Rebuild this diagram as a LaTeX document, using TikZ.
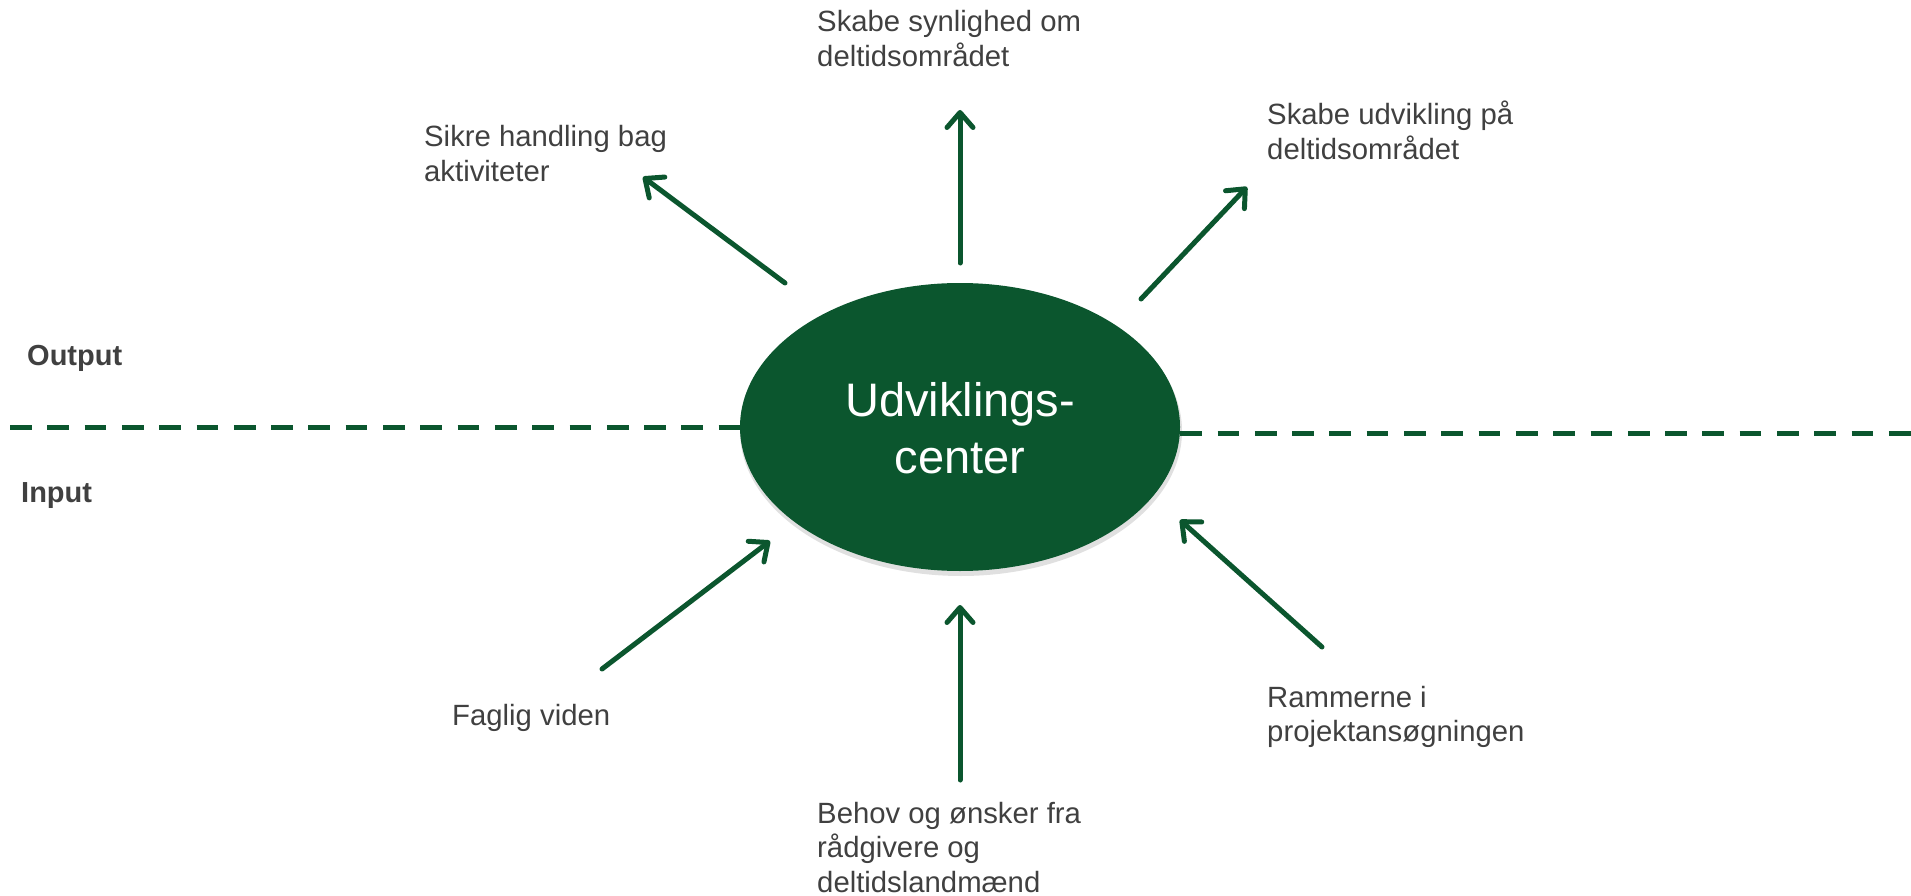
\documentclass[tikz,border=0pt]{standalone}
\usepackage{fontspec}
\setmainfont{Liberation Sans}
\usetikzlibrary{arrows.meta,shapes.geometric}
\definecolor{dgreen}{RGB}{11,86,46}
\definecolor{txtgray}{RGB}{64,64,64}
\tikzset{
  lbl/.style={anchor=base west, inner sep=0pt, text=txtgray, font=\fontsize{29.3}{34.5}\selectfont},
  side/.style={anchor=base west, inner sep=0pt, text=txtgray, font=\fontsize{29}{34}\selectfont\bfseries},
  arr/.style={draw=dgreen, line width=5pt, line cap=round,
    -{Straight Barb[length=15pt,width=26pt,round]}},
  divider/.style={draw=dgreen, line width=5pt, dash pattern=on 21.7pt off 15.6pt},
}
\begin{document}
\begin{tikzpicture}[x=1pt,y=-1pt]
\useasboundingbox (0,0) rectangle (1911,896);
% shadow of ellipse
\fill[black, opacity=0.12] (961,431) ellipse [x radius=221, y radius=145];
\node[ellipse, fill=dgreen, minimum width=440pt, minimum height=288pt, inner sep=0pt] (c) at (960,427) {};
\node[anchor=base, inner sep=0pt, text=white, font=\fontsize{47}{57}\selectfont] (ct) at (960,416)
  {\begin{tabular}[t]{@{}c@{}}Udviklings-\\center\end{tabular}};
% divider
\coordinate (L) at (10,427);
\coordinate (R) at (1911,433);
\draw[divider] (L) -- (c.west);
\draw[divider] (R -| c.east) -- (R);
% labels
\node[side] (out) at (27,365) {Output};
\node[side] (in) at (21,502) {Input};
\node[lbl] (t1) at (817,32) {\begin{tabular}[t]{@{}l@{}}Skabe synlighed om\\deltidsområdet\end{tabular}};
\node[lbl] (t2) at (424,147) {\begin{tabular}[t]{@{}l@{}}Sikre handling bag\\aktiviteter\end{tabular}};
\node[lbl] (t3) at (1267,125) {\begin{tabular}[t]{@{}l@{}}Skabe udvikling på\\deltidsområdet\end{tabular}};
\node[lbl] (t4) at (452,725) {Faglig viden};
\node[lbl] (t5) at (817,823) {\begin{tabular}[t]{@{}l@{}}Behov og ønsker fra\\rådgivere og\\deltidslandmænd\end{tabular}};
\node[lbl] (t6) at (1267,707) {\begin{tabular}[t]{@{}l@{}}Rammerne i\\projektansøgningen\end{tabular}};
% arrow end points
\coordinate (a1s) at (785,283); \coordinate (a1e) at (643,177);
\coordinate (a2s) at (960,263); \coordinate (a2e) at (960,110);
\coordinate (a3s) at (1141,299); \coordinate (a3e) at (1247,187);
\coordinate (a4s) at (602,669); \coordinate (a4e) at (770,541);
\coordinate (a5s) at (960,780); \coordinate (a5e) at (960,605);
\coordinate (a6s) at (1322,647); \coordinate (a6e) at (1180,520);
\draw[arr] (a1s) -- (a1e);
\draw[arr] (a2s) -- (a2e);
\draw[arr] (a3s) -- (a3e);
\draw[arr] (a4s) -- (a4e);
\draw[arr] (a5s) -- (a5e);
\draw[arr] (a6s) -- (a6e);
\end{tikzpicture}
\end{document}
